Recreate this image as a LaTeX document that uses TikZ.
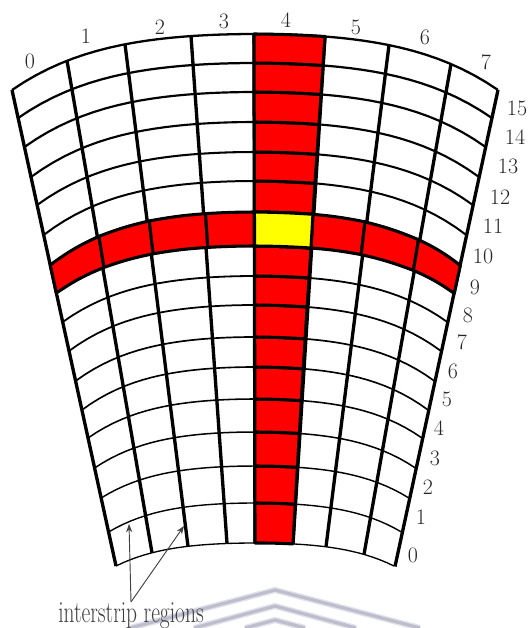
\documentclass[tikz,border=0pt]{standalone}
\usetikzlibrary{arrows.meta}
\definecolor{wmark}{HTML}{BDBDCE}
\definecolor{wmarkedge}{HTML}{E2E2EA}
\definecolor{cellred}{HTML}{FF0000}
\definecolor{cellyellow}{HTML}{FFFF00}

\begin{document}
\begin{tikzpicture}[
    x=0.75pt, y=-0.75pt, >=Stealth,
    stripline/.style={draw=black, line width=2.5pt},
    redcell/.style={draw=black, fill=cellred, line width=2.3pt, line join=round},
    hitcell/.style={draw=black, fill=cellyellow, line width=2.3pt, line join=round},
    numlabel/.style={inner sep=0pt, text=black!85, font=\fontsize{16.5}{18}\selectfont},
    notelabel/.style={inner sep=0pt, anchor=base, text=black!75, transform shape, xscale=0.7, font=\fontsize{23}{26}\selectfont},
    notearrow/.style={->, draw=black!75, line width=0.7pt},
    bgedge/.style={draw=wmarkedge, line width=4.6pt},
    bgmark/.style={draw=wmark, line width=2.4pt},
  ]
  \useasboundingbox (0,0) rectangle (531,628);

  % watermark behind the text
  \foreach \a/\d in {590/145,606/81,620/30} {
    \draw[bgedge] (275-\d,628) -- (275,\a) -- (275+\d,628);
    \draw[bgmark] (275-\d,628) -- (275,\a) -- (275+\d,628);
  }

  % levels, and the grid points on them: i = strip boundary, j = level
  \foreach \j in {0,...,16} {
    \pgfmathsetmacro{\cy}{{543,503,466,432,399,367,337,305,276,246,212,181,152,122,92,63,34}[\j]}
    \pgfmathsetmacro{\sag}{{23,29,32,36,39,43,44,46,46,47,53,54,53,55,55,55,56}[\j]}
    \pgfmathsetmacro{\hw}{243-(\cy+\sag-90)*0.2185}
    \pgfmathsetmacro{\frc}{(\cy-34)/509}
    \pgfmathsetmacro{\lw}{1.0+0.045*\j}
    \draw[line width=\lw pt] plot[domain=-1:1, samples=41, variable=\u] ({255+\u*\hw},{\cy+\sag*(0.5*\u*\u+0.5*\u*\u*\u*\u)});
    \foreach \i in {0,...,8} {
      \pgfmathsetmacro{\xa}{{12,67,125,191,254,325,389,451,498}[\i]}
      \pgfmathsetmacro{\xb}{{116,152,188,227,255,293,326,364,395}[\i]}
      \pgfmathsetmacro{\uu}{(\xa-255)/243+\frc*((\xb-255)/139-(\xa-255)/243)}
      \coordinate (p\i-\j) at ({255+\uu*\hw},{\cy+\sag*(0.5*\uu*\uu+0.5*\uu*\uu*\uu*\uu)});
    }
  }

  % strips
  \foreach \i in {0,...,8} {
    \draw[stripline] (p\i-0) -- (p\i-16);
  }

  % lit cells
  \foreach \j [evaluate=\j as \k using int(\j+1)] in {0,...,15} {
    \draw[redcell] (p4-\j) to[bend left=1.5] (p5-\j) -- (p5-\k) to[bend right=1.5] (p4-\k) -- cycle;
  }
  \foreach \i/\b [evaluate=\i as \k using int(\i+1)] in {0/6,1/4,2/3,3/1.5,4/1.5,5/3,6/4,7/6} {
    \draw[redcell] (p\i-9) to[bend left=\b] (p\k-9) -- (p\k-10) to[bend right=\b] (p\i-10) -- cycle;
  }
  \draw[hitcell] (p4-9) to[bend left=1.5] (p5-9) -- (p5-10) to[bend right=1.5] (p4-10) -- cycle;

  % strip numbers
  \node[numlabel] (s0) at (30,61)  {0};
  \node[numlabel] (s1) at (86,36)  {1};
  \node[numlabel] (s2) at (160,27) {2};
  \node[numlabel] (s3) at (224,21) {3};
  \node[numlabel] (s4) at (286,20) {4};
  \node[numlabel] (s5) at (356,27) {5};
  \node[numlabel] (s6) at (425,37) {6};
  \node[numlabel] (s7) at (486,62) {7};

  % level numbers
  \node[numlabel] (l0)  at (413,555) {0};
  \node[numlabel] (l1)  at (421,517) {1};
  \node[numlabel] (l2)  at (428,487) {2};
  \node[numlabel] (l3)  at (435,458) {3};
  \node[numlabel] (l4)  at (439,428) {4};
  \node[numlabel] (l5)  at (447,399) {5};
  \node[numlabel] (l6)  at (453,371) {6};
  \node[numlabel] (l7)  at (462,342) {7};
  \node[numlabel] (l8)  at (468,315) {8};
  \node[numlabel] (l9)  at (475,287) {9};
  \node[numlabel] (l10) at (483,256) {10};
  \node[numlabel] (l11) at (493,226) {11};
  \node[numlabel] (l12) at (500,197) {12};
  \node[numlabel] (l13) at (508,166) {13};
  \node[numlabel] (l14) at (515,137) {14};
  \node[numlabel] (l15) at (517,108) {15};

  % note
  \node[notelabel] (note) at (131,622) {interstrip regions};
  \coordinate (gapa) at (129,524);
  \coordinate (gapb) at (184,526);
  \draw[notearrow] (note.north) -- (gapa);
  \draw[notearrow] (note.north) -- (gapb);
\end{tikzpicture}
\end{document}
